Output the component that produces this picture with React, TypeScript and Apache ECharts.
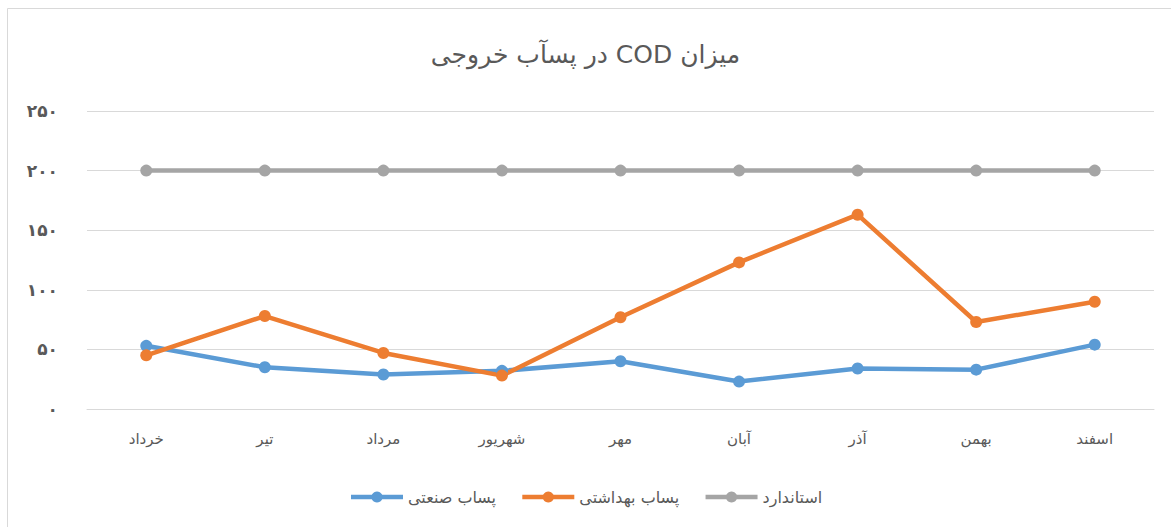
import React, { useEffect, useRef } from "react";
import * as echarts from "echarts";

const titleText = "میزان COD در پسآب خروجی";
const months = ["خرداد", "تیر", "مرداد", "شهریور", "مهر", "آبان", "آذر", "بهمن", "اسفند"];
const seriesNames = ["پساب صنعتی", "پساب بهداشتی", "استاندارد"];
const industrial = [53, 35, 29, 32, 40, 23, 34, 33, 54];
const sanitary = [45, 78, 47, 28, 77, 123, 163, 73, 90];
const standard = [200, 200, 200, 200, 200, 200, 200, 200, 200];
const colors = ["#5B9BD5", "#ED7D31", "#A5A5A5"];
const persianDigits = ["۰", "۱", "۲", "۳", "۴", "۵", "۶", "۷", "۸", "۹"];

const toPersian = (v: number) =>
  String(v).replace(/[0-9]/g, (d) => persianDigits[Number(d)]);
const rtl = (s: string) => "\u202B" + s + "\u202C";

export default function App() {
  const ref = useRef<HTMLDivElement>(null);
  useEffect(() => {
    if (!ref.current) return;
    const chart = echarts.init(ref.current, null, { renderer: "svg" });
    const font = "'DejaVu Sans', 'Noto Sans', sans-serif";
    const mk = (name: string, data: number[], color: string) => ({
      name,
      type: "line",
      data,
      symbol: "circle",
      symbolSize: 12,
      showSymbol: true,
      lineStyle: { color, width: 4.5 },
      itemStyle: { color },
      emphasis: { disabled: true },
    });
    chart.setOption({
      animation: false,
      textStyle: { fontFamily: font },
      title: {
        text: rtl(titleText),
        left: "center",
        top: 37,
        textStyle: { fontSize: 25, fontWeight: "normal", color: "#595959", fontFamily: font },
      },
      graphic: [
        {
          type: "rect",
          shape: { x: 7.5, y: 8.5, width: 1300, height: 700 },
          style: { fill: "none", stroke: "#D9D9D9", lineWidth: 1 },
          silent: true,
        },
      ],
      grid: { left: 87, right: 17, top: 111, bottom: 118 },
      legend: {
        data: seriesNames,
        bottom: 17,
        left: "center",
        itemWidth: 52,
        itemHeight: 14,
        itemGap: 24,
        lineStyle: { width: 4.5 },
        textStyle: { fontSize: 16, color: "#595959", fontFamily: font },
      },
      xAxis: {
        type: "category",
        data: months,
        boundaryGap: true,
        axisLine: { show: true, lineStyle: { color: "#D9D9D9", width: 1 } },
        axisTick: { show: false },
        axisLabel: { color: "#595959", fontSize: 15, margin: 22, fontFamily: font },
      },
      yAxis: {
        type: "value",
        min: 0,
        max: 250,
        interval: 50,
        axisLine: { show: false },
        axisTick: { show: false },
        splitLine: { lineStyle: { color: "#D9D9D9", width: 1 } },
        axisLabel: {
          color: "#595959",
          fontSize: 17,
          fontWeight: "bold",
          margin: 29,
          fontFamily: font,
          formatter: (v: number) => toPersian(v),
        },
      },
      series: [
        mk(seriesNames[0], industrial, colors[0]),
        mk(seriesNames[1], sanitary, colors[1]),
        mk(seriesNames[2], standard, colors[2]),
      ],
    });
    return () => chart.dispose();
  }, []);
  return (
    <div style={{ position: "fixed", left: 0, top: 0, width: 1171, height: 527, background: "#fff" }}>
      <div ref={ref} style={{ width: 1171, height: 527 }} />
    </div>
  );
}
